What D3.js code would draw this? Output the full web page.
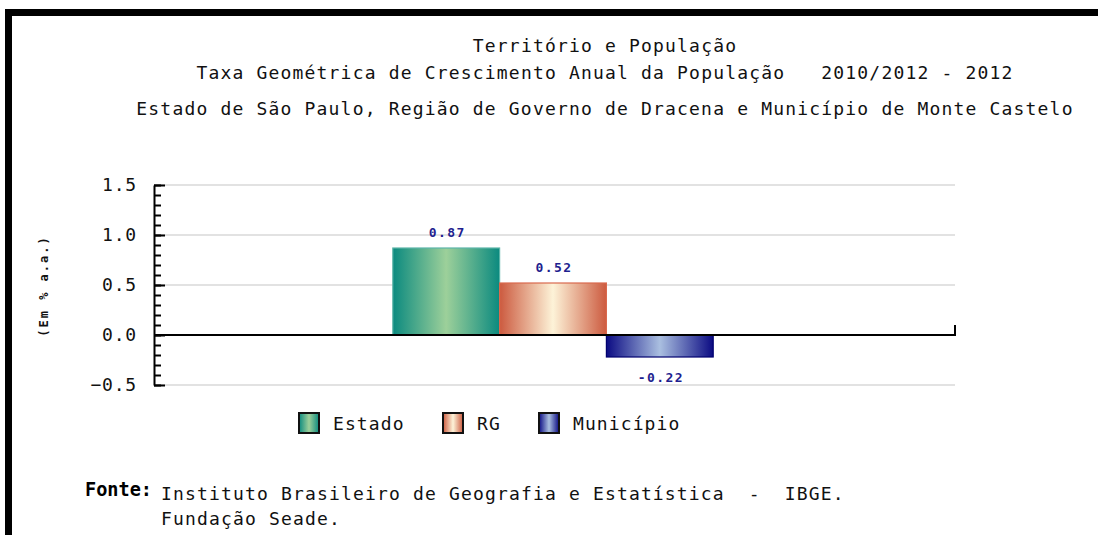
<!DOCTYPE html>
<html>
<head>
<meta charset="utf-8">
<script src="https://cdn.jsdelivr.net/npm/d3@7"></script>
<style>
  body { margin: 0; background: #fff; }
  text { font-family: "DejaVu Sans Mono", "Liberation Mono", monospace; white-space: pre; }
</style>
</head>
<body>
<div id="chart"></div>
<script>
const width = 1098;
const height = 535;

// data
const titleLines = [
    "Território e População",
    "Taxa Geométrica de Crescimento Anual da População   2010/2012 - 2012",
    "Estado de São Paulo, Região de Governo de Dracena e Município de Monte Castelo"
];
const categories = ["2012"];
const series = ["Estado", "RG", "Município"];
const values = [0.87, 0.52, -0.22];
const valueLabels = ["0.87", "0.52", "-0.22"];
const yMajorTicks = [-0.5, 0.0, 0.5, 1.0, 1.5];
const yAxisTitle = "(Em % a.a.)";
const sourceLines = [
    "Instituto Brasileiro de Geografia e Estatística  -  IBGE.",
    "Fundação Seade."
];

const colors = {
    "Estado":    { edge: "#0b8a7f", mid: "#9dd09a", stroke: "#5cb5a8" },
    "RG":        { edge: "#cc5a3f", mid: "#fdf3d8", stroke: "#d9694e" },
    "Município": { edge: "#0b0b83", mid: "#aabfe0", stroke: "#00006e" }
};

const plot = { left: 154, right: 955, top: 185, bottom: 385 };

const svg = d3.select("#chart")
    .append("svg")
    .attr("width", width)
    .attr("height", height);

svg.append("rect")
    .attr("width", width)
    .attr("height", height)
    .attr("fill", "#fff");

// outer frame
svg.append("rect")
    .attr("x", 8.5)
    .attr("y", 12.5)
    .attr("width", 1200)
    .attr("height", 700)
    .attr("fill", "none")
    .attr("stroke", "#000")
    .attr("stroke-width", 7);

// gradients
const defs = svg.append("defs");
series.forEach((s, i) => {
    const g = defs.append("linearGradient")
        .attr("id", "grad" + i)
        .attr("x1", "0%").attr("x2", "100%")
        .attr("y1", "0%").attr("y2", "0%");
    g.append("stop").attr("offset", "0%").attr("stop-color", colors[s].edge);
    g.append("stop").attr("offset", "50%").attr("stop-color", colors[s].mid);
    g.append("stop").attr("offset", "100%").attr("stop-color", colors[s].edge);
});

// titles
const titleY = [52, 79, 115];
svg.selectAll(".title")
    .data(titleLines)
    .enter()
    .append("text")
    .attr("class", "title")
    .attr("x", 605)
    .attr("y", (d, i) => titleY[i])
    .attr("text-anchor", "middle")
    .attr("font-size", 18)
    .attr("letter-spacing", 1.18)
    .attr("fill", "#111")
    .text(d => d);

// scales
const y = d3.scaleLinear()
    .domain([-0.5, 1.5])
    .range([plot.bottom, plot.top]);

const x0 = d3.scaleBand()
    .domain(categories)
    .range([plot.left, plot.right])
    .paddingInner(0)
    .paddingOuter(0.75);

const x1 = d3.scaleBand()
    .domain(series)
    .range([0, x0.bandwidth()]);

// grid lines
svg.append("g")
    .selectAll("line")
    .data(yMajorTicks.filter(d => d !== 0))
    .enter()
    .append("line")
    .attr("x1", plot.left)
    .attr("x2", plot.right)
    .attr("y1", d => y(d))
    .attr("y2", d => y(d))
    .attr("stroke", "#e2e2e2")
    .attr("stroke-width", 2);

// bars
const group = svg.append("g")
    .attr("transform", `translate(${x0(categories[0]) - 1.5},0)`);

group.selectAll("rect")
    .data(values)
    .enter()
    .append("rect")
    .attr("x", (d, i) => x1(series[i]))
    .attr("width", x1.bandwidth())
    .attr("y", d => y(Math.max(0, d)))
    .attr("height", d => Math.abs(y(d) - y(0)))
    .attr("fill", (d, i) => `url(#grad${i})`)
    .attr("stroke", (d, i) => colors[series[i]].stroke)
    .attr("stroke-width", 1.2);

group.selectAll(".vlabel")
    .data(values)
    .enter()
    .append("text")
    .attr("class", "vlabel")
    .attr("x", (d, i) => x1(series[i]) + x1.bandwidth() / 2 + 1)
    .attr("y", d => d >= 0 ? y(d) - 16 : y(d) + 20)
    .attr("dy", "0.35em")
    .attr("text-anchor", "middle")
    .attr("font-size", 13)
    .attr("font-weight", "bold")
    .attr("letter-spacing", 1.4)
    .attr("fill", "#1f1f8f")
    .text((d, i) => valueLabels[i]);

// zero line with end tick
svg.append("line")
    .attr("x1", plot.left)
    .attr("x2", plot.right)
    .attr("y1", y(0))
    .attr("y2", y(0))
    .attr("stroke", "#000")
    .attr("stroke-width", 2);
svg.append("line")
    .attr("x1", plot.right)
    .attr("x2", plot.right)
    .attr("y1", y(0) + 1)
    .attr("y2", y(0) - 10)
    .attr("stroke", "#000")
    .attr("stroke-width", 2);

// y axis: minor ticks
const minorTicks = d3.range(-5, 16).map(d => d / 10);
svg.append("g")
    .attr("transform", `translate(${plot.left},0)`)
    .call(d3.axisLeft(y).tickValues(minorTicks).tickSizeInner(-7).tickSizeOuter(0).tickFormat(""))
    .call(g => g.select(".domain").remove())
    .call(g => g.selectAll("line").attr("stroke", "#000").attr("stroke-width", 2));

// y axis: major ticks
svg.append("g")
    .attr("transform", `translate(${plot.left},0)`)
    .call(d3.axisLeft(y).tickValues(yMajorTicks).tickSizeInner(-11).tickSizeOuter(0)
        .tickPadding(17).tickFormat(d3.format(".1f")))
    .call(g => g.select(".domain").attr("stroke", "#000").attr("stroke-width", 2))
    .call(g => g.selectAll("line").attr("stroke", "#000").attr("stroke-width", 2))
    .call(g => g.selectAll("text")
        .attr("font-family", "DejaVu Sans Mono, monospace")
        .attr("font-size", 18)
        .attr("letter-spacing", 0.8)
        .attr("fill", "#111"));

// y axis title
svg.append("text")
    .attr("transform", "translate(48,286) rotate(-90)")
    .attr("text-anchor", "middle")
    .attr("font-size", 12)
    .attr("font-weight", "bold")
    .attr("letter-spacing", 2.0)
    .attr("fill", "#111")
    .text(yAxisTitle);

// legend
const legendX = [299, 443, 539];
const legend = svg.append("g")
    .selectAll("g")
    .data(series)
    .enter()
    .append("g")
    .attr("transform", (d, i) => `translate(${legendX[i]},413)`);

legend.append("rect")
    .attr("width", 20)
    .attr("height", 20)
    .attr("fill", (d, i) => `url(#grad${i})`)
    .attr("stroke", "#111")
    .attr("stroke-width", 2);

legend.append("text")
    .attr("x", 34)
    .attr("y", 11)
    .attr("dy", "0.35em")
    .attr("font-size", 18)
    .attr("letter-spacing", 1.1)
    .attr("fill", "#111")
    .text(d => d);

// source
svg.append("text")
    .attr("x", 85)
    .attr("y", 496)
    .attr("font-family", "Liberation Sans Narrow, Liberation Sans, Arial, sans-serif")
    .attr("font-size", 19)
    .attr("font-weight", "bold")
    .attr("textLength", 67)
    .attr("lengthAdjust", "spacingAndGlyphs")
    .attr("fill", "#000")
    .text("Fonte:");

svg.selectAll(".source")
    .data(sourceLines)
    .enter()
    .append("text")
    .attr("class", "source")
    .attr("x", 161)
    .attr("y", (d, i) => 500 + i * 25)
    .attr("font-size", 18)
    .attr("letter-spacing", 1.16)
    .attr("fill", "#111")
    .text(d => d);
</script>
</body>
</html>
